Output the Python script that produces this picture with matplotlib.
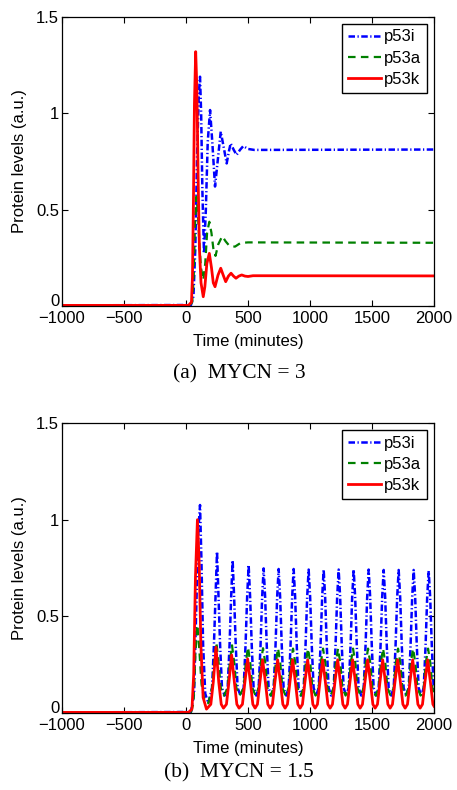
import matplotlib

matplotlib.use("Agg")
import matplotlib.pyplot as plt
from matplotlib.transforms import ScaledTranslation

# ---- data (time in minutes, protein level in a.u.) ----

# (a) MYCN = 3
p53i_a = [
    (-1000, 0.003), (40, 0.005), (60, 0.05), (75, 0.3), (90, 0.8), (103, 1.1),
    (113, 1.19), (122, 1.0), (132, 0.6), (145, 0.273), (160, 0.5), (175, 0.85),
    (194, 1.017), (212, 0.85), (234, 0.62), (255, 0.75), (280, 0.905),
    (305, 0.82), (328, 0.74), (345, 0.8), (360, 0.844), (385, 0.81),
    (408, 0.784), (435, 0.81), (462, 0.83), (500, 0.815), (550, 0.81),
    (2000, 0.812),
]
p53a_a = [
    (-1000, 0.002), (30, 0.003), (50, 0.02), (62, 0.15), (72, 0.42),
    (83, 0.567), (94, 0.5), (106, 0.35), (120, 0.2), (139, 0.135), (155, 0.22),
    (170, 0.38), (188, 0.437), (205, 0.38), (220, 0.3), (238, 0.26),
    (260, 0.32), (292, 0.362), (320, 0.335), (350, 0.312), (395, 0.308),
    (440, 0.327), (500, 0.33), (2000, 0.328),
]
p53k_a = [
    (-1000, 0.003), (20, 0.003), (44, 0.02), (52, 0.15), (60, 0.55), (68, 1.05),
    (78, 1.32), (88, 1.12), (98, 0.65), (108, 0.3), (121, 0.12),
    (139, 0.048), (152, 0.1), (168, 0.22), (188, 0.273), (205, 0.2),
    (220, 0.12), (234, 0.1), (258, 0.16), (280, 0.196), (300, 0.16),
    (320, 0.126), (342, 0.155), (363, 0.17), (383, 0.155), (403, 0.144),
    (426, 0.155), (449, 0.161), (475, 0.155), (500, 0.153), (540, 0.157),
    (2000, 0.156),
]

# (b) MYCN = 1.5
p53i_b = [
    (-1000, 0.003), (40, 0.005), (65, 0.1), (85, 0.6), (100, 0.95),
    (113, 1.076), (124, 0.8), (138, 0.35), (155, 0.1), (180, 0.05),
    (210, 0.13), (225, 0.35), (238, 0.6), (250, 0.835), (262, 0.6), (275, 0.35), (290, 0.13), (311, 0.09),
    (336, 0.13), (351, 0.35), (364, 0.6), (376, 0.79), (388, 0.6), (401, 0.35), (416, 0.13), (440, 0.09),
    (465, 0.13), (480, 0.35), (493, 0.6), (505, 0.766), (517, 0.6), (530, 0.35), (545, 0.13), (566, 0.09),
    (586, 0.13), (601, 0.35), (614, 0.6), (626, 0.748), (638, 0.6), (651, 0.35), (666, 0.13), (687, 0.09),
    (707, 0.13), (722, 0.35), (735, 0.6), (747, 0.745), (759, 0.6), (772, 0.35), (787, 0.13), (808, 0.09),
    (828, 0.13), (843, 0.35), (856, 0.6), (868, 0.745), (880, 0.6), (893, 0.35), (908, 0.13), (929, 0.09),
    (949, 0.13), (964, 0.35), (977, 0.6), (989, 0.742), (1001, 0.6), (1014, 0.35), (1029, 0.13), (1050, 0.09),
    (1070, 0.13), (1085, 0.35), (1098, 0.6), (1110, 0.742), (1122, 0.6), (1135, 0.35), (1150, 0.13), (1171, 0.09),
    (1191, 0.13), (1206, 0.35), (1219, 0.6), (1231, 0.742), (1243, 0.6), (1256, 0.35), (1271, 0.13), (1292, 0.09),
    (1312, 0.13), (1327, 0.35), (1340, 0.6), (1352, 0.742), (1364, 0.6), (1377, 0.35), (1392, 0.13), (1413, 0.09),
    (1433, 0.13), (1448, 0.35), (1461, 0.6), (1473, 0.742), (1485, 0.6), (1498, 0.35), (1513, 0.13), (1534, 0.09),
    (1554, 0.13), (1569, 0.35), (1582, 0.6), (1594, 0.74), (1606, 0.6), (1619, 0.35), (1634, 0.13), (1655, 0.09),
    (1675, 0.13), (1690, 0.35), (1703, 0.6), (1715, 0.74), (1727, 0.6), (1740, 0.35), (1755, 0.13), (1776, 0.09),
    (1796, 0.13), (1811, 0.35), (1824, 0.6), (1836, 0.74), (1848, 0.6), (1861, 0.35), (1876, 0.13), (1897, 0.09),
    (1917, 0.13), (1932, 0.35), (1945, 0.6), (1957, 0.735), (1969, 0.6), (1982, 0.35), (1997, 0.13),
    (2000, 0.12),
]
p53a_b = [
    (-1000, 0.002), (40, 0.005), (60, 0.05), (75, 0.3), (91, 0.455),
    (105, 0.35), (125, 0.15), (150, 0.06), (180, 0.05),
    (210, 0.13), (227, 0.26), (245, 0.365), (263, 0.26), (280, 0.13), (306, 0.09),
    (336, 0.13), (353, 0.26), (371, 0.35), (389, 0.26), (406, 0.13), (432, 0.09),
    (465, 0.13), (482, 0.26), (500, 0.34), (518, 0.26), (535, 0.13), (561, 0.09),
    (586, 0.13), (603, 0.26), (621, 0.335), (639, 0.26), (656, 0.13), (682, 0.09),
    (707, 0.13), (724, 0.26), (742, 0.335), (760, 0.26), (777, 0.13), (803, 0.09),
    (828, 0.13), (845, 0.26), (863, 0.333), (881, 0.26), (898, 0.13), (924, 0.09),
    (949, 0.13), (966, 0.26), (984, 0.333), (1002, 0.26), (1019, 0.13), (1045, 0.09),
    (1070, 0.13), (1087, 0.26), (1105, 0.333), (1123, 0.26), (1140, 0.13), (1166, 0.09),
    (1191, 0.13), (1208, 0.26), (1226, 0.333), (1244, 0.26), (1261, 0.13), (1287, 0.09),
    (1312, 0.13), (1329, 0.26), (1347, 0.333), (1365, 0.26), (1382, 0.13), (1408, 0.09),
    (1433, 0.13), (1450, 0.26), (1468, 0.333), (1486, 0.26), (1503, 0.13), (1529, 0.09),
    (1554, 0.13), (1571, 0.26), (1589, 0.333), (1607, 0.26), (1624, 0.13), (1650, 0.09),
    (1675, 0.13), (1692, 0.26), (1710, 0.333), (1728, 0.26), (1745, 0.13), (1771, 0.09),
    (1796, 0.13), (1813, 0.26), (1831, 0.333), (1849, 0.26), (1866, 0.13), (1892, 0.09),
    (1917, 0.13), (1934, 0.26), (1952, 0.333), (1970, 0.26), (1987, 0.13),
    (2000, 0.1),
]
p53k_b = [
    (-1000, 0.003), (20, 0.003), (48, 0.02), (62, 0.2), (76, 0.7), (92, 1.0),
    (106, 0.78), (120, 0.35), (138, 0.08), (165, 0.02),
    (200, 0.045), (220, 0.16), (242, 0.34), (264, 0.16), (284, 0.045), (302, 0.025),
    (326, 0.045), (346, 0.16), (368, 0.3), (390, 0.16), (410, 0.045), (428, 0.025),
    (455, 0.045), (475, 0.16), (497, 0.28), (519, 0.16), (539, 0.045), (557, 0.025),
    (576, 0.045), (596, 0.16), (618, 0.275), (640, 0.16), (660, 0.045), (678, 0.025),
    (697, 0.045), (717, 0.16), (739, 0.275), (761, 0.16), (781, 0.045), (799, 0.025),
    (818, 0.045), (838, 0.16), (860, 0.275), (882, 0.16), (902, 0.045), (920, 0.025),
    (939, 0.045), (959, 0.16), (981, 0.275), (1003, 0.16), (1023, 0.045), (1041, 0.025),
    (1060, 0.045), (1080, 0.16), (1102, 0.275), (1124, 0.16), (1144, 0.045), (1162, 0.025),
    (1181, 0.045), (1201, 0.16), (1223, 0.275), (1245, 0.16), (1265, 0.045), (1283, 0.025),
    (1302, 0.045), (1322, 0.16), (1344, 0.275), (1366, 0.16), (1386, 0.045), (1404, 0.025),
    (1423, 0.045), (1443, 0.16), (1465, 0.275), (1487, 0.16), (1507, 0.045), (1525, 0.025),
    (1544, 0.045), (1564, 0.16), (1586, 0.275), (1608, 0.16), (1628, 0.045), (1646, 0.025),
    (1665, 0.045), (1685, 0.16), (1707, 0.275), (1729, 0.16), (1749, 0.045), (1767, 0.025),
    (1786, 0.045), (1806, 0.16), (1828, 0.275), (1850, 0.16), (1870, 0.045), (1888, 0.025),
    (1907, 0.045), (1927, 0.16), (1949, 0.275), (1971, 0.16), (1991, 0.045),
    (2000, 0.035),
]

series_labels = ["p53i", "p53a", "p53k"]
captions = ["(a)  MYCN = 3", "(b)  MYCN = 1.5"]
x_ticks = [-1000, -500, 0, 500, 1000, 1500, 2000]
y_ticks = [0, 0.5, 1, 1.5]
y_tick_labels = ["0", "0.5", "1", "1.5"]

SANS = ["Liberation Sans", "DejaVu Sans"]
SERIF = ["Liberation Serif", "DejaVu Serif"]


def plot_panel(fig, ax, p53i, p53a, p53k):
    ax.plot(
        [p[0] for p in p53i], [p[1] for p in p53i],
        color=(0, 0, 1), lw=1.8, dashes=(2.6, 1.0, 0.5, 1.0), label=series_labels[0],
    )
    ax.plot(
        [p[0] for p in p53a], [p[1] for p in p53a],
        color=(0, 0.5, 0), lw=1.6, dashes=(3.4, 2.4), label=series_labels[1],
    )
    ax.plot(
        [p[0] for p in p53k], [p[1] for p in p53k],
        color=(1, 0, 0), lw=2.0, label=series_labels[2],
    )

    ax.set_xlim(-1000, 2000)
    ax.set_ylim(0, 1.5)
    ax.set_xticks(x_ticks)
    ax.set_yticks(y_ticks)
    ax.set_yticklabels(y_tick_labels)
    ax.tick_params(direction="in", top=True, right=True, length=4, width=0.8,
                   labelsize=12, pad=2)
    ax.tick_params(axis="x", pad=3.5)
    for lbl in ax.get_xticklabels() + ax.get_yticklabels():
        lbl.set_family(SANS)
    # lift the bottom "0" a little so it does not sit on top of "-1000"
    zero = ax.get_yticklabels()[0]
    zero.set_transform(zero.get_transform()
                       + ScaledTranslation(0, 4 / 72, fig.dpi_scale_trans))
    for s in ax.spines.values():
        s.set_linewidth(0.9)

    ax.set_xlabel("Time (minutes)", fontsize=12, family=SANS, labelpad=6)
    ax.set_ylabel("Protein levels (a.u.)", fontsize=12, family=SANS, labelpad=7)

    leg = ax.legend(
        loc="upper right", fancybox=False, edgecolor="black", framealpha=1,
        prop={"family": SANS, "size": 12}, handlelength=2.0, handletextpad=0.2,
        borderpad=0.35, labelspacing=0.38, borderaxespad=0.4,
    )
    leg.get_frame().set_linewidth(1.0)


fig = plt.figure(figsize=(4.57, 7.9), dpi=100)
ax_a = fig.add_axes([0.1357, 0.6127, 0.814, 0.3658])
ax_b = fig.add_axes([0.1357, 0.0975, 0.814, 0.367])

plot_panel(fig, ax_a, p53i_a, p53a_a, p53k_a)
plot_panel(fig, ax_b, p53i_b, p53a_b, p53k_b)

fig.text(0.523, 1 - 374 / 790, captions[0], ha="center", va="center",
         fontsize=15.5, family=SERIF)
fig.text(0.523, 1 - 773 / 790, captions[1], ha="center", va="center",
         fontsize=15.5, family=SERIF)

fig.savefig("out.png", dpi=100)
